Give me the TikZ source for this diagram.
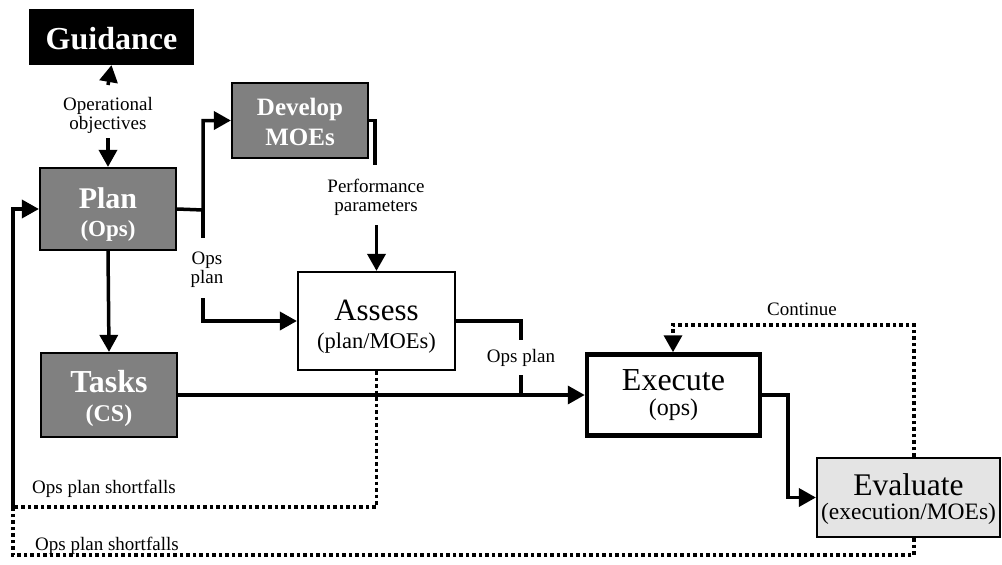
\documentclass[tikz,border=0pt]{standalone}
\usepackage{fontspec}
\setmainfont{Liberation Serif}
\usetikzlibrary{arrows.meta}
\newcommand\fsz[1]{\fontsize{#1}{#1}\selectfont}
\definecolor{midgray}{RGB}{128,128,128}
\definecolor{lightgray}{RGB}{228,228,228}
\begin{document}
\begin{tikzpicture}[x=1pt,y=-1pt,
  box/.style={draw, line width=2.2pt, inner sep=0pt},
  graybox/.style={box, fill=midgray},
  boxtext/.style={anchor=base, inner sep=0pt},
  wtext/.style={boxtext, text=white, font=\bfseries},
  lbl/.style={inner sep=0pt, font=\fsz{19}, align=center},
  conn/.style={line width=3.5pt, line join=miter},
  arr/.style={conn, -{Triangle[length=17pt,width=18pt]}},
  dots/.style={line width=3.5pt, dash pattern=on 3.5pt off 3pt},
  dotarr/.style={dots, -{Triangle[length=17pt,width=18pt]}}]
\useasboundingbox (0,0) rectangle (1002,565);

% boxes
\node[box, fill=black, minimum width=163pt, minimum height=54pt] (guid) at (111.5,37) {};
\node[graybox, minimum width=136pt, minimum height=82pt] (plan) at (108,209) {};
\node[graybox, minimum width=136pt, minimum height=75pt] (dev) at (300,120.5) {};
\node[graybox, minimum width=136pt, minimum height=84pt] (tasks) at (109,395) {};
\node[box, fill=white, minimum width=157pt, minimum height=98pt] (assess) at (376.5,321) {};
\node[box, fill=white, line width=4.5pt, minimum width=173pt, minimum height=81pt] (exec) at (673.5,395) {};
\node[box, fill=lightgray, minimum width=183pt, minimum height=79pt] (eval) at (908.5,497.5) {};

% box texts
\node[wtext, font=\bfseries\fsz{32}] (guid-t) at (111.5,49) {Guidance};
\node[wtext, font=\bfseries\fsz{30}] (plan-t1) at (108,208) {Plan};
\node[wtext, font=\bfseries\fsz{23}] (plan-t2) at (108,236) {(Ops)};
\node[wtext, font=\bfseries\fsz{25}] (dev-t1) at (300,115) {Develop};
\node[wtext, font=\bfseries\fsz{25}] (dev-t2) at (300,145) {MOEs};
\node[wtext, font=\bfseries\fsz{32}] (tasks-t1) at (109,392) {Tasks};
\node[wtext, font=\bfseries\fsz{24}] (tasks-t2) at (109,421) {(CS)};
\node[boxtext, font=\fsz{31}] (assess-t1) at (376.5,320) {Assess};
\node[boxtext, font=\fsz{22.5}] (assess-t2) at (376.5,348) {(plan/MOEs)};
\node[boxtext, font=\fsz{32}] (exec-t1) at (673.5,390) {Execute};
\node[boxtext, font=\fsz{24}] (exec-t2) at (673.5,415) {(ops)};
\node[boxtext, font=\fsz{31.5}] (eval-t1) at (908.5,495) {Evaluate};
\node[boxtext, font=\fsz{23.5}] (eval-t2) at (908.5,519) {(execution/MOEs)};

% connector labels
\node[lbl] (objl) at (108,115) {Operational\\objectives};
\node[lbl] (opsl) at (207,270) {Ops\\plan};
\node[lbl] (perfl) at (376,197) {Performance\\parameters};
\node[lbl, anchor=base] (ops2l) at (521,362) {Ops plan};
\node[lbl, anchor=base] (contl) at (802,315) {Continue};
\node[lbl, anchor=base west] (sf1l) at (32,493) {Ops plan shortfalls};
\node[lbl, anchor=base west] (sf2l) at (35,550) {Ops plan shortfalls};

% junction and bend points
\coordinate (oa) at (108,85);
\coordinate (ob) at (108,138);
\coordinate (pj) at (203,210);
\coordinate (pt) at (203,238);
\coordinate (ps) at (203,298);
\coordinate (dj) at (375,165);
\coordinate (dk) at (376.5,225);
\coordinate (aj) at (521,340);
\coordinate (ak) at (521,375);
\coordinate (ej) at (788,450);
\coordinate (ca) at (914,325);
\coordinate (cb) at (673,325);
\coordinate (sa) at (377,507);
\coordinate (sl) at (13,507);
\coordinate (sb) at (914,555);
\coordinate (sc) at (13,555);

% solid connectors
\draw[arr] (oa) -- (guid.south);
\draw[arr] (ob) -- (plan.north);
\draw[arr] (plan.east) -- (pj) |- (dev.west);
\draw[conn] (pj) -- (pt);
\draw[arr] (ps) |- (assess.west);
\draw[conn] (dev.east) -| (dj);
\draw[arr] (dk) -- (assess.north);
\draw[conn] (assess.east) -| (aj);
\draw[conn] (ak) -- (ak |- tasks.east);
\draw[arr] (plan.south) -- (tasks.north);
\draw[arr] (tasks.east) -- (exec.west);
\draw[arr] (exec.east) -- (exec.east -| ej) |- (eval.west);
\draw[arr] (sl) |- (plan.west);

% dotted feedback loops
\draw[dotarr] (eval.north -| ca) -- (ca) -- (cb) -- (exec.north -| cb);
\draw[dots] (assess.south) -- (assess.south |- sa) -- (sl);
\draw[dots] (eval.south -| sb) -- (sb) -- (sc) -- (sl);
\end{tikzpicture}
\end{document}
